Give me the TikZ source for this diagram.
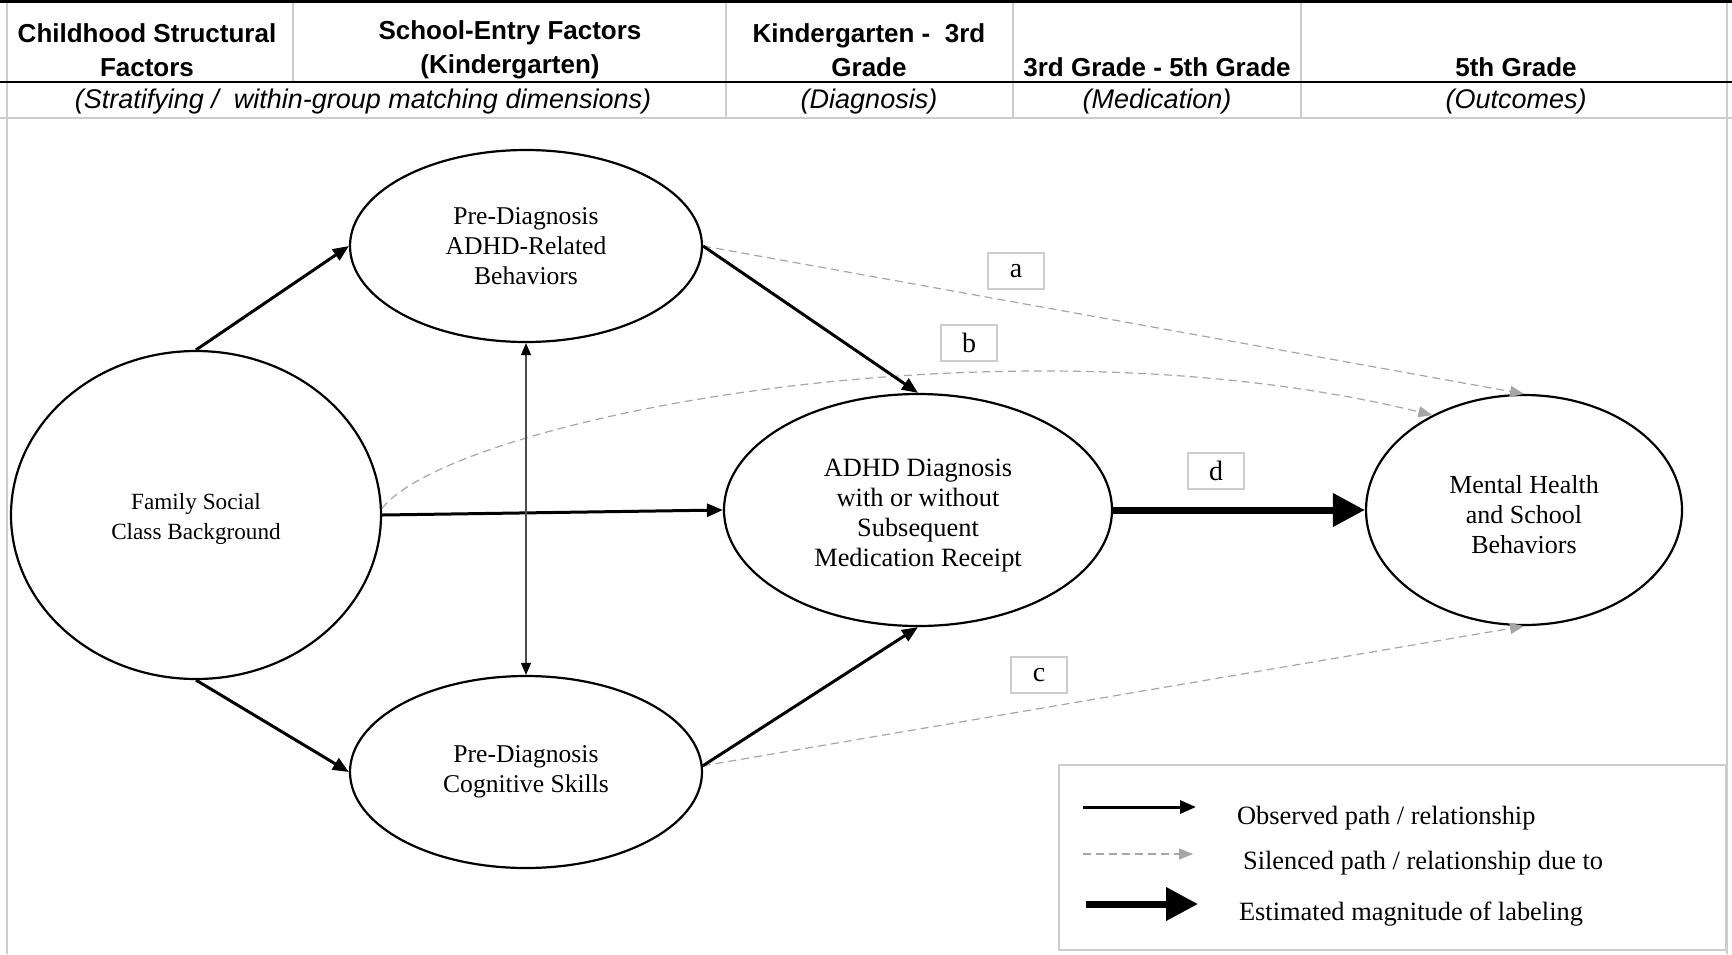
\documentclass[tikz,border=0pt]{standalone}
\usepackage{fontspec}
\setmainfont{Liberation Serif}
\newfontfamily\hdrfont{Liberation Sans}
\usepackage{tikz}
\usetikzlibrary{shapes.geometric}
\usetikzlibrary{arrows.meta}
\definecolor{rulegray}{RGB}{205,205,205}
\definecolor{pathgray}{RGB}{166,166,166}
\tikzset{
	stage/.style={ellipse,draw,line width=1.1pt,inner sep=0pt,align=center,font=\fontsize{#1}{15}\selectfont},
	stage/.default=12.8,
	observed/.style={line width=1.5pt,-{Triangle[length=8pt,width=6.5pt]}},
	silenced/.style={pathgray,line width=0.6pt,dash pattern=on 4pt off 2.5pt,-{Triangle[length=7pt,width=5.5pt]}},
	linked/.style={black!70,line width=0.6pt,{Triangle[length=6pt,width=5pt,black]}-{Triangle[length=6pt,width=5pt,black]}},
	labeling/.style={line width=3.5pt,-{Triangle[length=16pt,width=16pt]}},
	pathlabel/.style={draw=rulegray,line width=1pt,minimum width=28pt,minimum height=18pt,inner sep=0pt,font=\fontsize{14}{16}\selectfont},
	colhead/.style={font=\hdrfont\bfseries\fontsize{13}{17}\selectfont,align=center},
	colsub/.style={font=\hdrfont\itshape\fontsize{13.5}{16}\selectfont},
	legendtext/.style={anchor=west,font=\fontsize{13.2}{15}\selectfont}
}

\begin{document}
\begin{tikzpicture}[x=0.5pt,y=-0.5pt]
	\useasboundingbox (0,0) rectangle (1732,954);
	\draw[rulegray,line width=1pt] (7,0) -- (7,954);
	\draw[rulegray,line width=1pt] (1727,0) -- (1727,954);
	\draw[rulegray,line width=1pt] (293,0) -- (293,82);
	\draw[rulegray,line width=1pt] (726,0) -- (726,118);
	\draw[rulegray,line width=1pt] (1013,0) -- (1013,118);
	\draw[rulegray,line width=1pt] (1301,0) -- (1301,118);
	\draw[rulegray,line width=1pt] (0,118) -- (1732,118);
	\draw[line width=1.2pt] (0,1.5) -- (1732,1.5);
	\draw[line width=1.2pt] (0,82) -- (1732,82);
	\node[colhead] (h1) at (147,50) {Childhood Structural\\Factors};
	\node[colhead] (h2) at (510,50) {School-Entry Factors\\(Kindergarten)};
	\node[colhead] (h3) at (869,50) {Kindergarten -\ \ 3rd\\Grade};
	\node[colhead] (h4) at (1157,67) {3rd Grade - 5th Grade};
	\node[colhead] (h5) at (1516,67) {5th Grade};
	\node[colsub] (s1) at (363,102) {(Stratifying /\ \ within-group matching dimensions)};
	\node[colsub] (s2) at (869,102) {(Diagnosis)};
	\node[colsub] (s3) at (1157,102) {(Medication)};
	\node[colsub] (s4) at (1516,102) {(Outcomes)};

	\node[stage=11.6,text height=27pt,minimum width=185pt,minimum height=164pt] (fam) at (196,515) {Family Social\\Class Background};
	\node[stage,minimum width=176pt,minimum height=96pt] (beh) at (526,246) {Pre-Diagnosis\\ADHD-Related\\Behaviors};
	\node[stage,minimum width=176pt,minimum height=96pt] (cog) at (526,772) {Pre-Diagnosis\\Cognitive Skills};
	\node[stage=13.2,text height=59pt,minimum width=194pt,minimum height=116pt] (adhd) at (918,510) {ADHD Diagnosis\\with or without\\Subsequent\\Medication Receipt};
	\node[stage=13,text height=44pt,minimum width=158pt,minimum height=115pt] (mh) at (1524,510) {Mental Health\\and School\\Behaviors};

	\draw[silenced] (beh.east) -- (mh.north);
	\draw[silenced] (fam.2) .. controls (450,420) and (1000,310) .. (mh.134);
	\draw[silenced] (cog.2) -- (mh.south);
	\draw[observed] (fam.north) -- (beh.west);
	\draw[observed] (fam.south) -- (cog.west);
	\draw[observed] (fam.east) -- (adhd.west);
	\draw[observed] (beh.east) -- (adhd.north);
	\draw[observed] (cog.2) -- (adhd.south);
	\draw[linked] (beh.south) -- (cog.north);
	\draw[labeling] (adhd.east) -- (mh.west);
	\node[pathlabel] (la) at (1016,271) {a};
	\node[pathlabel] (lb) at (969,343) {b};
	\node[pathlabel] (lc) at (1039,675) {c};
	\node[pathlabel] (ld) at (1216,471) {d};

	\draw[rulegray,line width=1pt] (1059,765) rectangle (1726,950);
	\node[legendtext] (obs) at (1230,818) {Observed path / relationship};
	\node[legendtext] (sil) at (1236,863) {Silenced path / relationship due to};
	\node[legendtext] (est) at (1232,914) {Estimated magnitude of labeling};
	\coordinate (obs-s) at (1083,807);
	\coordinate (obs-e) at (1196,807);
	\coordinate (sil-s) at (1083,854);
	\coordinate (sil-e) at (1193,854);
	\coordinate (est-s) at (1086,904);
	\coordinate (est-e) at (1198,904);
	\draw[observed] (obs-s) -- (obs-e);
	\draw[silenced] (sil-s) -- (sil-e);
	\draw[labeling] (est-s) -- (est-e);
\end{tikzpicture}
\end{document}
